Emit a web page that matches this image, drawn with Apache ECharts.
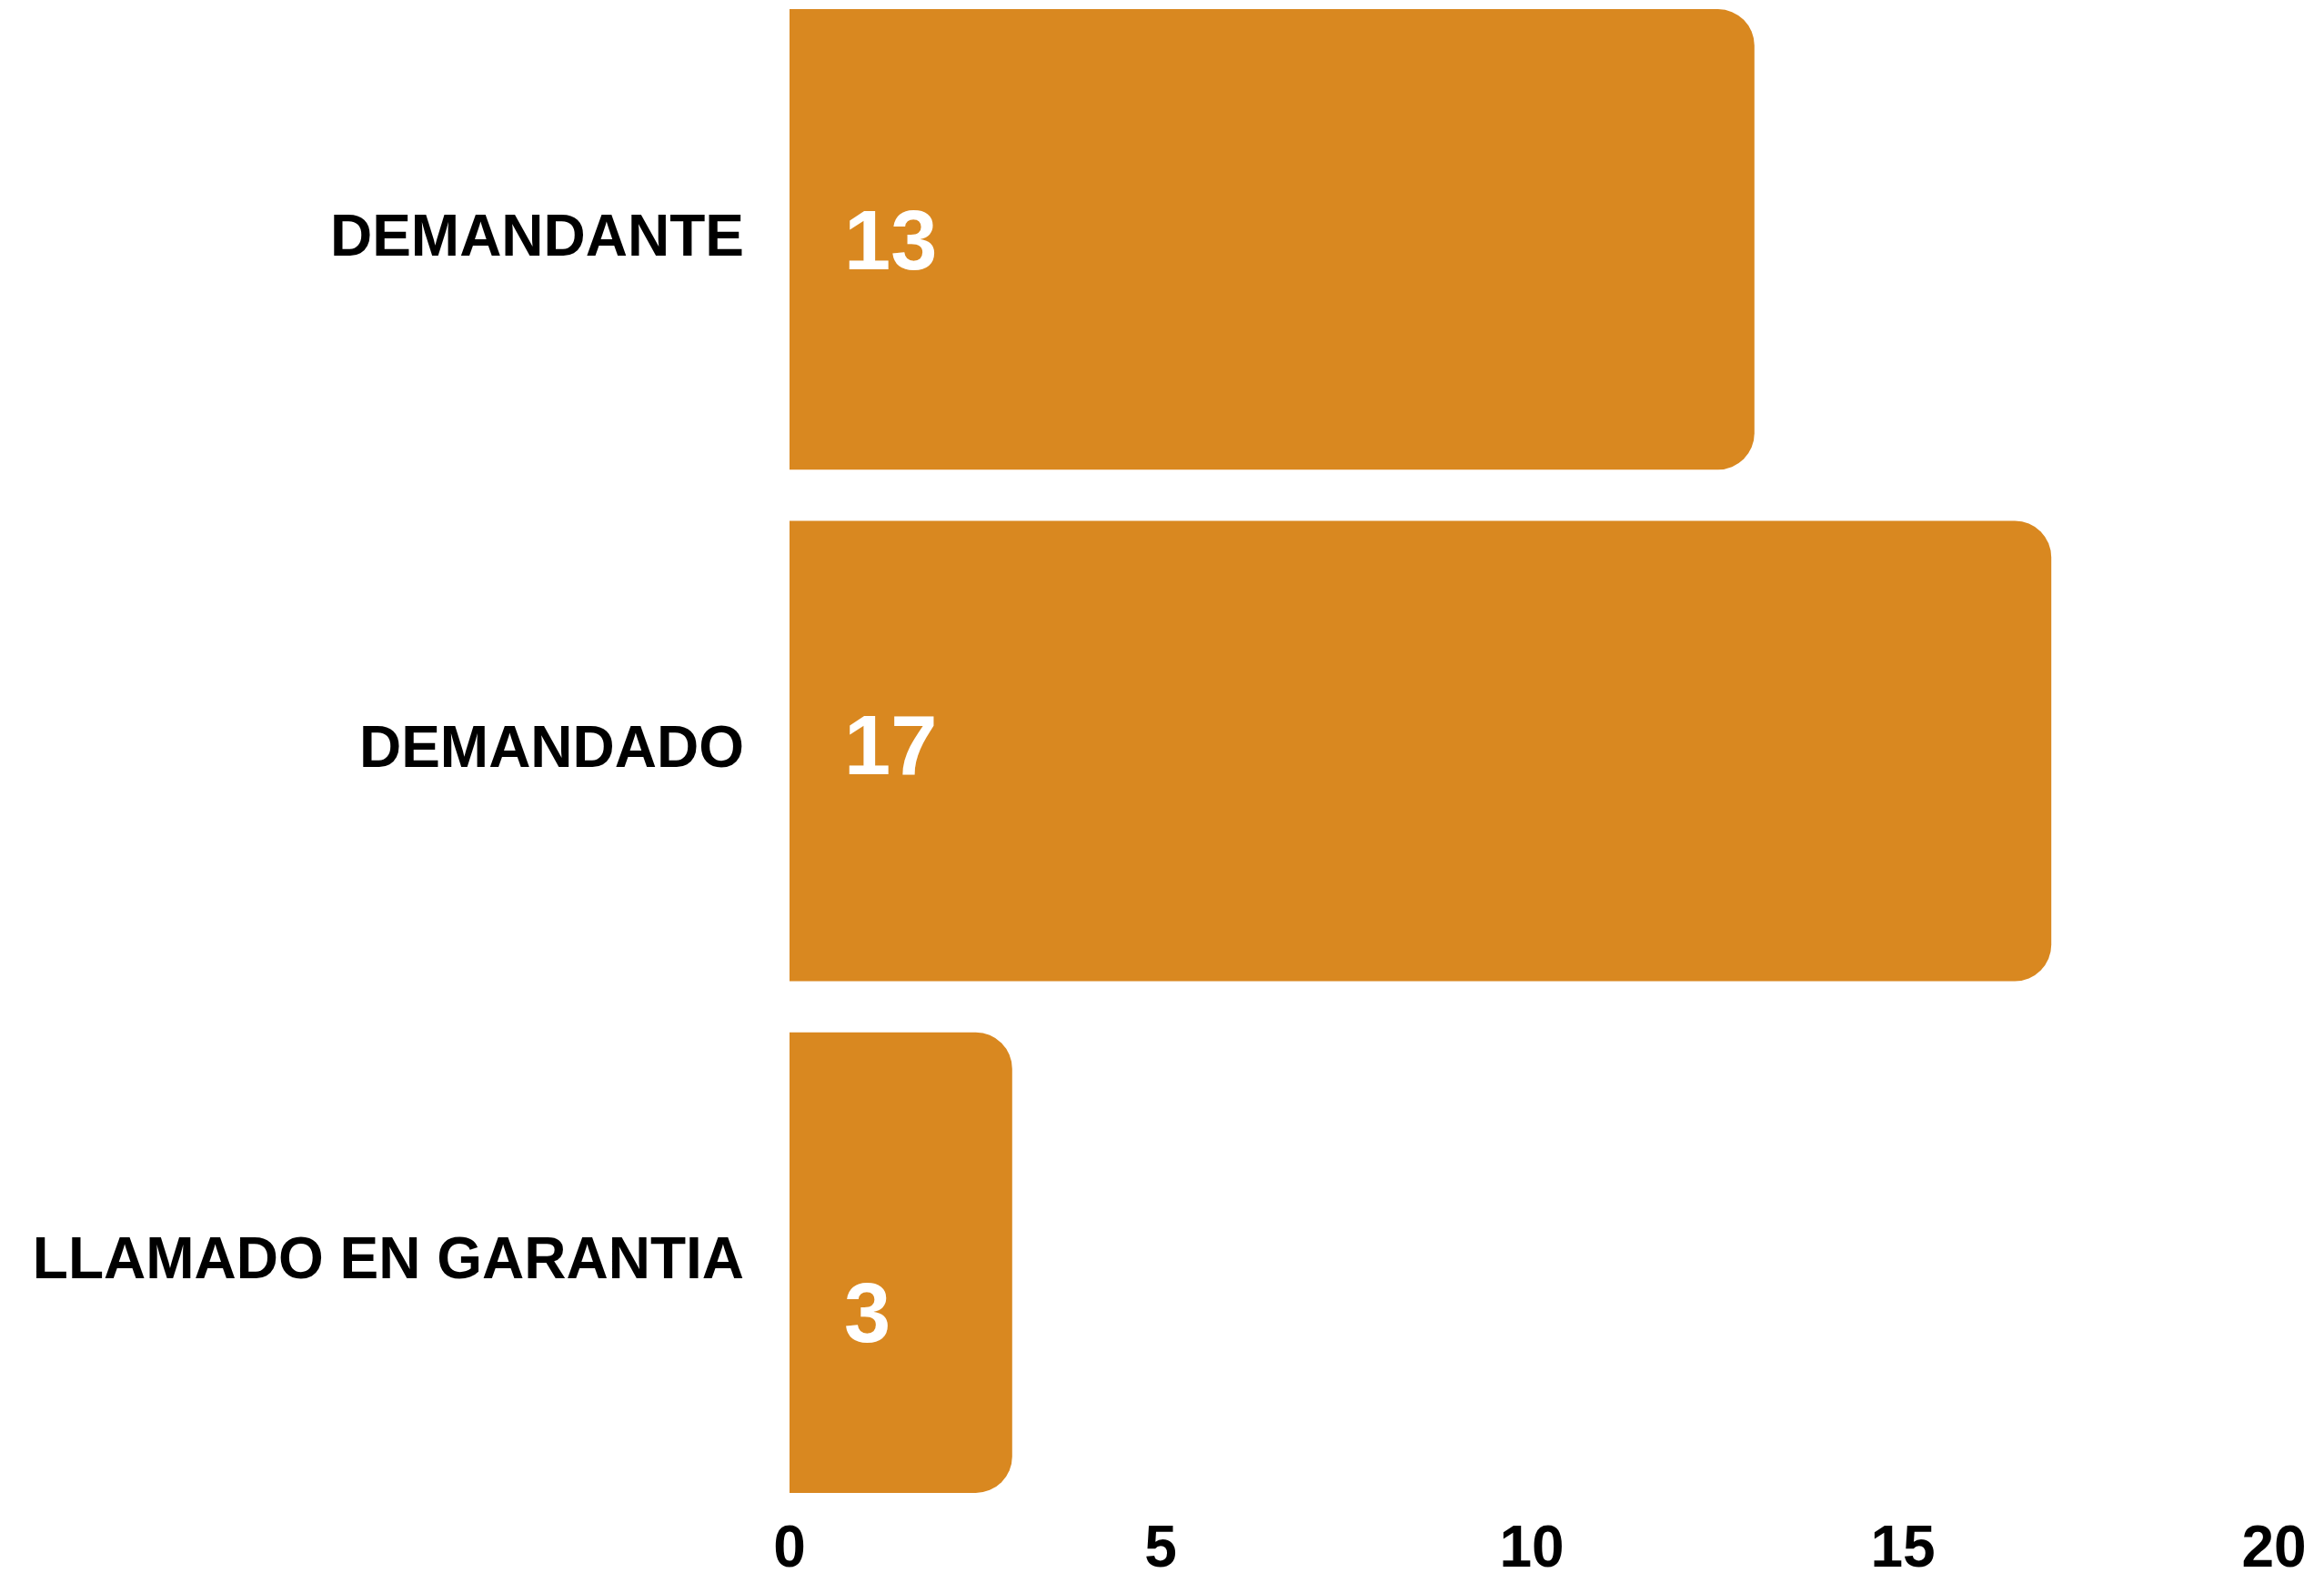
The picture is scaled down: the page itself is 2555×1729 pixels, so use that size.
<!DOCTYPE html>
<html>
<head>
<meta charset="utf-8">
<script src="https://cdn.jsdelivr.net/npm/echarts@6/dist/echarts.min.js"></script>
<style>
    html, body { margin: 0; padding: 0; background: #fff; }
    #chart { width: 2555px; height: 1729px; }
</style>
</head>
<body>
<div id="chart"></div>
<script>
// datos
const categories = ['DEMANDANTE', 'DEMANDADO', 'LLAMADO EN GARANTIA']
const values = [13, 17, 3]
const xTicks = [0, 5, 10, 15, 20]

// desplazamiento de etiquetas (solo estilo)
const labelShift = [[0, 7], [0, 0], [0, 62]]

const chart = echarts.init(document.getElementById('chart'), null, { renderer: 'canvas' })

chart.setOption({
    animation: false,
    textStyle: { fontFamily: '"Liberation Sans", Arial, sans-serif' },
    grid: {
        left: 868,
        right: 55,
        top: -18,
        height: 1687,
        containLabel: false,
        outerBoundsMode: 'none'
    },
    xAxis: {
        type: 'value',
        min: xTicks[0],
        max: xTicks[xTicks.length - 1],
        interval: 5,
        axisLine: { show: false },
        axisTick: { show: false },
        splitLine: { show: false },
        axisLabel: {
            color: '#000',
            fontSize: 64,
            fontWeight: 'bold',
            margin: 3
        }
    },
    yAxis: {
        type: 'category',
        inverse: true,
        data: categories,
        axisLine: { show: false },
        axisTick: { show: false },
        axisLabel: {
            color: '#000',
            fontSize: 64,
            fontWeight: 'bold',
            margin: 50
        }
    },
    series: [{
        type: 'bar',
        barCategoryGap: '10%',
        data: values.map((v, i) => ({
            value: v,
            label: { offset: labelShift[i] }
        })),
        itemStyle: {
            color: '#D98820',
            borderRadius: [0, 40, 40, 0]
        },
        label: {
            show: true,
            position: 'insideLeft',
            distance: 60,
            color: '#fff',
            fontSize: 92,
            fontWeight: 'bold'
        }
    }]
})
</script>
</body>
</html>
